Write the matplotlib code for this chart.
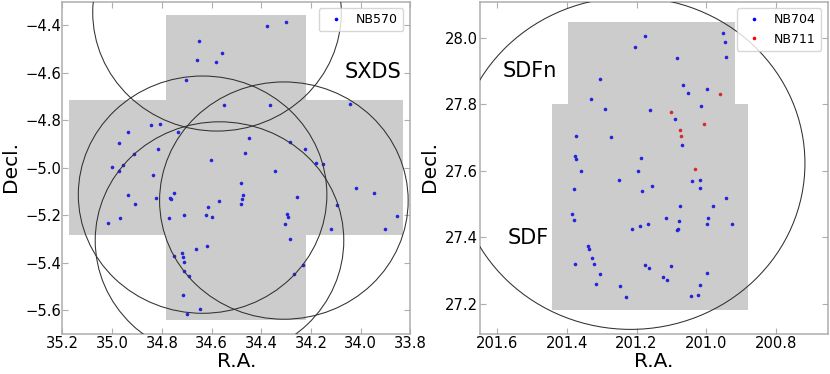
import matplotlib
matplotlib.use("Agg")
import matplotlib.pyplot as plt
from matplotlib.lines import Line2D
from matplotlib.patches import Circle, Polygon

# SXDS, NB570
ra_570 = [34.649, 34.658, 34.702, 34.842, 34.808, 34.937, 34.735, 34.971, 34.815, 34.910,
          35.000, 34.955, 34.973, 34.835, 34.375, 34.299, 34.558, 34.582, 34.551, 34.366,
          34.042, 34.449, 34.284, 34.223, 34.464, 34.601, 34.178, 34.151, 34.343, 34.480,
          34.936, 34.906, 34.824, 34.751, 34.768, 34.763, 34.613, 34.622, 34.712, 34.967,
          34.771, 35.015, 34.617, 34.661, 34.717, 34.753, 34.714, 34.712, 34.711, 34.692,
          34.716, 34.647, 34.698, 34.017, 33.946, 34.255, 34.571, 34.472, 34.477, 34.480,
          34.597, 34.096, 34.297, 34.291, 34.306, 33.854, 33.901, 34.119, 34.283, 34.232,
          34.268]
dec_570 = [-4.466, -4.548, -4.632, -4.822, -4.815, -4.849, -4.850, -4.895, -4.920, -4.943,
           -4.997, -4.991, -5.014, -5.030, -4.405, -4.387, -4.515, -4.556, -4.738, -4.738,
           -4.732, -4.874, -4.892, -4.923, -4.940, -4.970, -4.982, -4.985, -5.013, -5.064,
           -5.114, -5.155, -5.127, -5.105, -5.130, -5.133, -5.168, -5.199, -5.200, -5.214,
           -5.213, -5.235, -5.330, -5.341, -5.360, -5.372, -5.376, -5.397, -5.436, -5.456,
           -5.536, -5.598, -5.616, -5.088, -5.106, -5.124, -5.140, -5.117, -5.133, -5.155,
           -5.210, -5.158, -5.196, -5.208, -5.238, -5.204, -5.257, -5.257, -5.301, -5.411,
           -5.449]

# SDF / SDFn, NB704
ra_704 = [201.304, 201.330, 201.291, 201.375, 201.273, 201.378, 201.375, 201.360, 201.249,
          201.176, 201.204, 200.951, 200.946, 200.944, 201.084, 201.067, 201.053, 200.998,
          201.014, 201.162, 201.089, 201.071, 201.186, 201.196, 201.040, 201.018, 201.155,
          201.018, 201.380, 201.385, 201.380, 201.339, 201.336, 201.327, 201.322, 201.377,
          201.304, 201.317, 201.247, 201.229, 201.185, 200.943, 201.076, 200.980, 201.116,
          201.079, 200.994, 200.997, 200.925, 201.166, 201.189, 201.212, 201.080, 201.084,
          201.176, 201.163, 201.100, 200.997, 201.125, 201.114, 201.018, 201.043, 201.023]
dec_704 = [27.878, 27.818, 27.786, 27.705, 27.701, 27.644, 27.636, 27.600, 27.574,
           28.007, 27.974, 28.016, 27.989, 27.942, 27.941, 27.860, 27.835, 27.848,
           27.794, 27.782, 27.756, 27.679, 27.640, 27.601, 27.571, 27.574, 27.556,
           27.549, 27.546, 27.471, 27.453, 27.374, 27.366, 27.337, 27.319, 27.321,
           27.289, 27.259, 27.254, 27.220, 27.540, 27.517, 27.493, 27.495, 27.457,
           27.450, 27.459, 27.439, 27.441, 27.439, 27.435, 27.424, 27.426, 27.423,
           27.318, 27.308, 27.314, 27.294, 27.281, 27.271, 27.257, 27.224, 27.226]

# NB711
ra_711 = [200.960, 201.101, 201.007, 201.075, 201.072, 201.032]
dec_711 = [27.832, 27.778, 27.740, 27.722, 27.706, 27.606]

# survey footprints
sxds_ra = [34.783, 34.219, 34.219, 33.83, 33.83, 34.219, 34.219, 34.783, 34.783, 35.173, 35.173, 34.783]
sxds_dec = [-4.356, -4.356, -4.716, -4.716, -5.282, -5.282, -5.643, -5.643, -5.282, -5.282, -4.716, -4.716]
sdf_ra = [201.396, 200.918, 200.918, 200.879, 200.879, 201.442, 201.442, 201.396]
sdf_dec = [28.049, 28.049, 27.8, 27.8, 27.182, 27.182, 27.8, 27.8]

# field circles
sxds_circles = [(34.578, -4.346), (34.636, -5.114), (34.309, -5.139), (34.568, -5.307)]
sdf_circles = [(201.217, 27.623)]
radius = 0.5

W, H = 830.0, 374.0
GRAY = "#aeaeae"
BLUE = "#0000ff"
RED = "#ff0000"


def setup(ax, xlim, ylim, xticks, yticks):
    ax.set_xlim(*xlim)
    ax.set_ylim(*ylim)
    ax.set_xticks(xticks)
    ax.set_yticks(yticks)
    ax.tick_params(direction="in", top=True, right=True, length=4.5, width=0.8,
                   color=GRAY, labelsize=10.6, pad=2)
    ax.tick_params(axis="y", pad=1)
    for s in ax.spines.values():
        s.set_color(GRAY)
        s.set_linewidth(1.1)


def field(ax, fp_ra, fp_dec, circles):
    ax.add_patch(Polygon(list(zip(fp_ra, fp_dec)), closed=True, fc="#cccccc", ec="none", zorder=1))
    for c in circles:
        ax.add_patch(Circle(c, radius, fc="none", ec="#303030", lw=0.75, zorder=3))


fig = plt.figure(figsize=(W/100, H/100), dpi=100)
ax1 = fig.add_axes([62.4/W, 1-333.7/H, 348/W, 332.2/H])
ax2 = fig.add_axes([479.7/W, 1-333.7/H, 348.6/W, 332.2/H])

setup(ax1, (35.2, 33.8), (-5.7, -4.3),
      [35.2, 35.0, 34.8, 34.6, 34.4, 34.2, 34.0, 33.8],
      [-5.6, -5.4, -5.2, -5.0, -4.8, -4.6, -4.4])
setup(ax2, (201.65, 200.65), (27.11, 28.11),
      [201.6, 201.4, 201.2, 201.0, 200.8],
      [27.2, 27.4, 27.6, 27.8, 28.0])

field(ax1, sxds_ra, sxds_dec, sxds_circles)
field(ax2, sdf_ra, sdf_dec, sdf_circles)

ax1.plot(ra_570, dec_570, "o", color="#2424dc", ms=2.6, mew=0, zorder=2)
ax2.plot(ra_704, dec_704, "o", color="#2424dc", ms=2.6, mew=0, zorder=2)
ax2.plot(ra_711, dec_711, "o", color="#d42c2c", ms=2.6, mew=0, zorder=2)

for ax in (ax1, ax2):
    ax.set_xlabel("R.A.", fontsize=14.5)
    ax.set_ylabel("Decl.", fontsize=14.5)
    ax.xaxis.set_label_coords(0.5, -0.056)
ax1.yaxis.set_label_coords(-0.122, 0.503)
ax2.yaxis.set_label_coords(-0.117, 0.503)

ax1.text(0.892, 0.788, "SXDS", fontsize=15, transform=ax1.transAxes, ha="center", va="center")
ax2.text(0.143, 0.792, "SDFn", fontsize=15, transform=ax2.transAxes, ha="center", va="center")
ax2.text(0.138, 0.289, "SDF", fontsize=15, transform=ax2.transAxes, ha="center", va="center")


def proxy(color, label):
    return Line2D([], [], ls="none", marker="o", ms=2.6, mew=0, color=color, label=label)


ax1.legend(handles=[proxy(BLUE, "NB570")], loc="upper right", fontsize=9,
           borderaxespad=0.5, bbox_to_anchor=(0.997, 0.998), handletextpad=0.6)
ax2.legend(handles=[proxy(BLUE, "NB704"), proxy(RED, "NB711")], loc="upper right", fontsize=9,
           borderaxespad=0.5, bbox_to_anchor=(0.997, 0.998), handletextpad=0.6)

fig.savefig("out.png", dpi=100)
